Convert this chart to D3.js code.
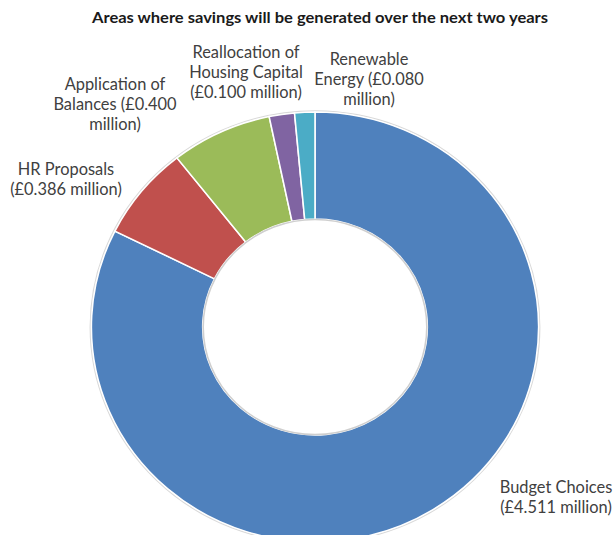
<!DOCTYPE html>
<html><head><meta charset="utf-8">
<script src="https://cdn.jsdelivr.net/npm/d3@7"></script>
<style>body{margin:0;background:#fff}svg{display:block}</style>
</head><body>
<script>
const categories = ["Budget Choices", "HR Proposals", "Application of Balances", "Reallocation of Housing Capital", "Renewable Energy"];
const values = [4.511, 0.386, 0.400, 0.100, 0.080];
const colors = ["#4F81BD", "#C0504D", "#9BBB59", "#8064A2", "#4BACC6"];
const labelLines = [
  ["Budget Choices", "(£4.511 million)"],
  ["HR Proposals", "(£0.386 million)"],
  ["Application of", "Balances (£0.400", "million)"],
  ["Reallocation of", "Housing Capital", "(£0.100 million)"],
  ["Renewable", "Energy (£0.080", "million)"]
];
const title = "Areas where savings will be generated over the next two years";

const W = 613, H = 535;
const cx = 315, cy = 327, rOut = 215, rIn = 108, sx = 1.04;
const svg = d3.select("body").append("svg").attr("width", W).attr("height", H);

const data = categories.map((c, i) => ({c, v: values[i], i}));
const pie = d3.pie().value(d => d.v).sort(null);
const arc = d3.arc().innerRadius(rIn).outerRadius(rOut);
const arcs = pie(data);

const g = svg.append("g").attr("transform", `translate(${cx},${cy}) scale(${sx},1)`);
g.append("circle").attr("r", rOut + 1).attr("fill", "none").attr("stroke", "#d9d9d9").attr("stroke-width", 1.5);
g.selectAll("path.slice").data(arcs).join("path")
  .attr("class", "slice")
  .attr("d", arc)
  .attr("fill", d => colors[d.data.i])
  .attr("stroke", "#fff").attr("stroke-width", 1.5);
g.append("circle").attr("r", rIn - 0.5).attr("fill", "none").attr("stroke", "#cfcfcf").attr("stroke-width", 1.5);

// title
const t = svg.append("text").attr("x", 320).attr("y", 23).attr("text-anchor", "middle")
  .attr("font-family", "Lato, 'Open Sans', sans-serif").attr("font-weight", "bold")
  .attr("font-size", 15.5).attr("fill", "#1a1a1a").text(title);
t.attr("textLength", 456).attr("lengthAdjust", "spacingAndGlyphs");

// labels: center x, first baseline y
const labelPos = [[556, 493], [66, 175], [115, 90], [246, 58], [369, 65]];
labelLines.forEach((lines, i) => {
  const txt = svg.append("text").attr("text-anchor", "middle")
    .attr("font-family", "Lato, 'Open Sans', sans-serif").attr("font-size", 16.4).attr("fill", "#404040");
  lines.forEach((ln, k) => {
    txt.append("tspan").attr("x", labelPos[i][0]).attr("y", labelPos[i][1] + k * 20).text(ln);
  });
});
</script>
</body></html>
